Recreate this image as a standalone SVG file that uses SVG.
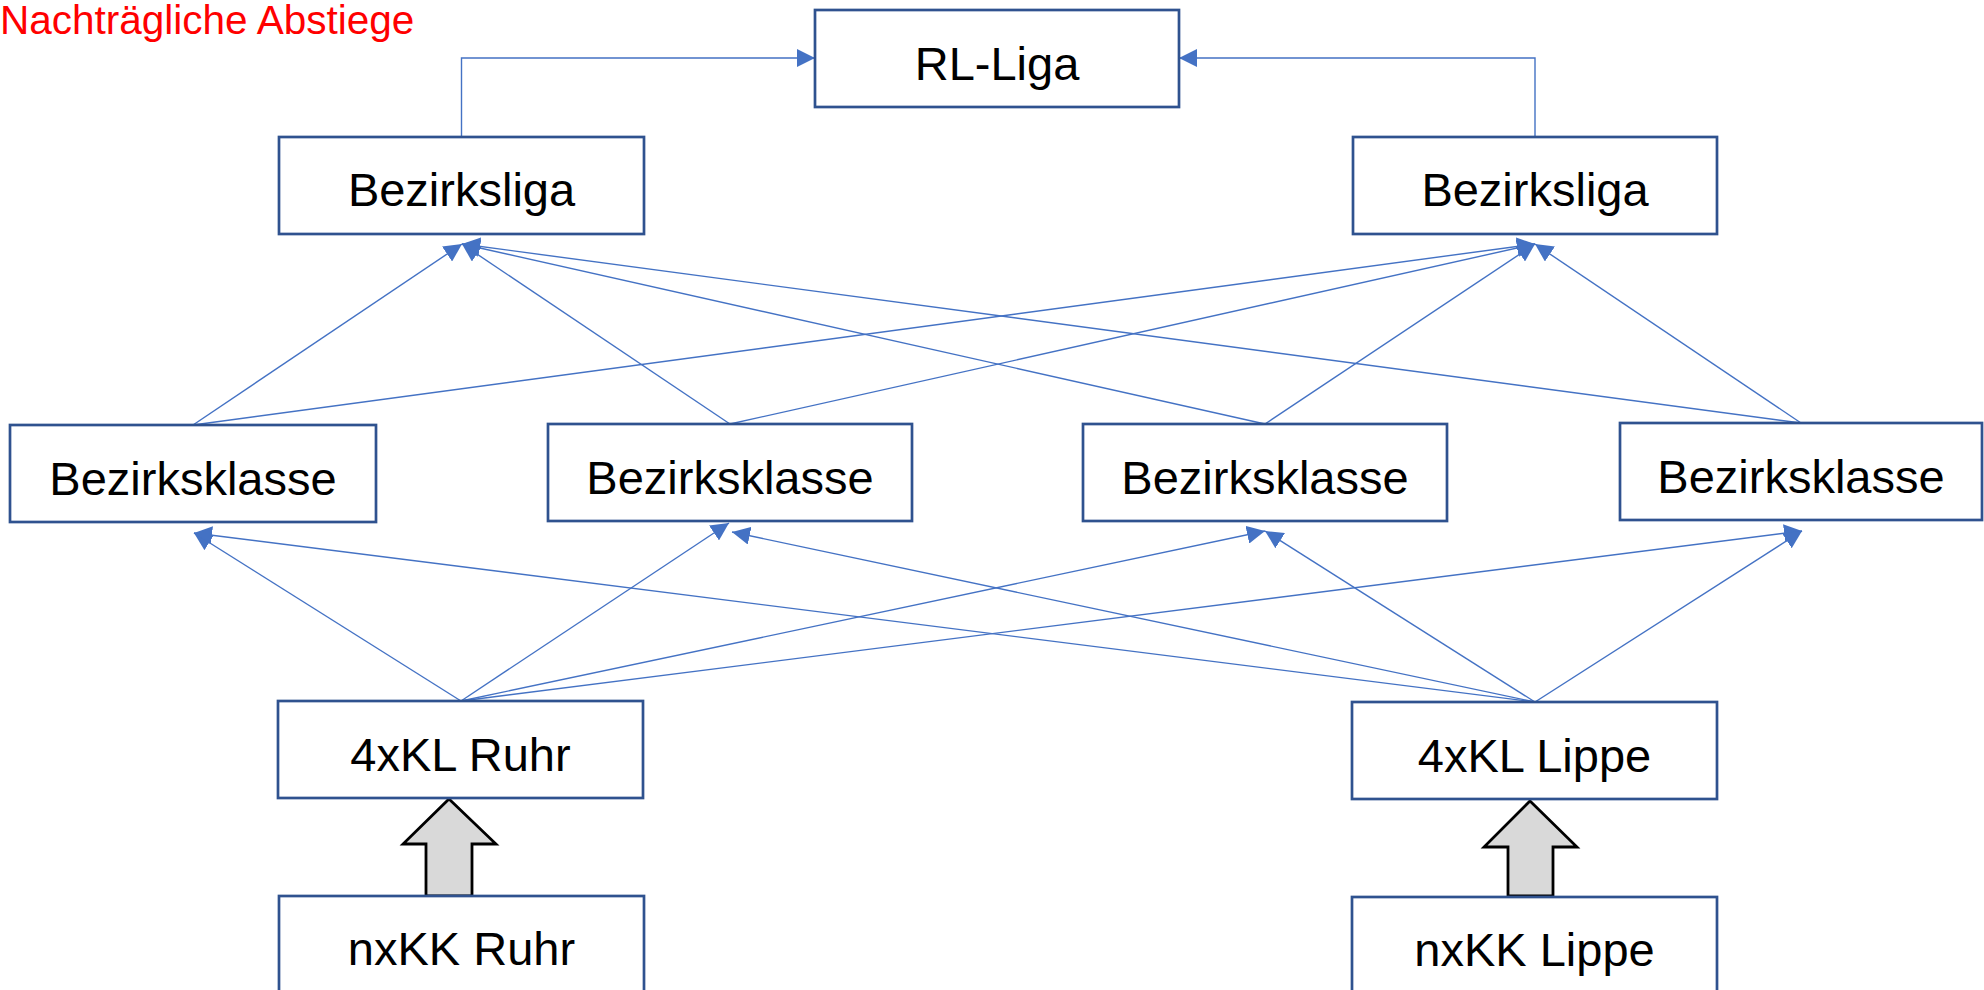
<svg xmlns="http://www.w3.org/2000/svg" width="1984" height="990" viewBox="0 0 1984 990">
<defs>
<style>
.box{fill:#fff;stroke:#2F528F;stroke-width:2.7}
.lbl{font-family:"Liberation Sans",Arial,sans-serif;font-size:47px;fill:#000;text-anchor:middle}
.con{fill:none;stroke:#4472C4;stroke-width:1.4}
.big{fill:#D9D9D9;stroke:#000;stroke-width:2.8;stroke-linejoin:miter}
</style>
<marker id="ah" markerUnits="userSpaceOnUse" markerWidth="18" markerHeight="18" viewBox="0 0 16 16" refX="16" refY="8" orient="auto">
<path d="M0,0 L16,8 L0,16 z" fill="#4472C4"/>
</marker>
</defs>
<rect width="1984" height="990" fill="#fff"/>
<text x="0" y="34" font-family="Liberation Sans, Arial, sans-serif" font-size="40.5" fill="#FF0000">Nachträgliche Abstiege</text>
<g id="connectors">
<path class="con" d="M461.5,137 V58 H815" marker-end="url(#ah)"/>
<path class="con" d="M1535,137 V58 H1179" marker-end="url(#ah)"/>
<line class="con" x1="193" y1="425" x2="462" y2="244" marker-end="url(#ah)"/>
<line class="con" x1="193" y1="425" x2="1535" y2="244" marker-end="url(#ah)"/>
<line class="con" x1="730" y1="424" x2="462" y2="244" marker-end="url(#ah)"/>
<line class="con" x1="730" y1="424" x2="1535" y2="244" marker-end="url(#ah)"/>
<line class="con" x1="1265" y1="424" x2="462" y2="244" marker-end="url(#ah)"/>
<line class="con" x1="1265" y1="424" x2="1535" y2="244" marker-end="url(#ah)"/>
<line class="con" x1="1801" y1="423" x2="462" y2="244" marker-end="url(#ah)"/>
<line class="con" x1="1801" y1="423" x2="1535" y2="244" marker-end="url(#ah)"/>
<line class="con" x1="461" y1="701" x2="194" y2="533" marker-end="url(#ah)"/>
<line class="con" x1="461" y1="701" x2="729" y2="523" marker-end="url(#ah)"/>
<line class="con" x1="461" y1="701" x2="1265" y2="531" marker-end="url(#ah)"/>
<line class="con" x1="461" y1="701" x2="1802" y2="531" marker-end="url(#ah)"/>
<line class="con" x1="1535" y1="702" x2="194" y2="533" marker-end="url(#ah)"/>
<line class="con" x1="1535" y1="702" x2="732" y2="532" marker-end="url(#ah)"/>
<line class="con" x1="1535" y1="702" x2="1265" y2="531" marker-end="url(#ah)"/>
<line class="con" x1="1535" y1="702" x2="1802" y2="531" marker-end="url(#ah)"/>
<polygon class="big" points="449,799 496,844 472,844 472,896 426,896 426,844 403,844"/>
<polygon class="big" points="1530,801 1577,847 1553,847 1553,896 1508,896 1508,847 1484,847"/>
</g>
<g id="rl-liga"><rect class="box" x="815" y="10" width="364" height="97"/><text class="lbl" x="997" y="80">RL-Liga</text></g>
<g id="bezirksliga-1"><rect class="box" x="279" y="137" width="365" height="97"/><text class="lbl" x="461.5" y="206">Bezirksliga</text></g>
<g id="bezirksliga-2"><rect class="box" x="1353" y="137" width="364" height="97"/><text class="lbl" x="1535" y="206">Bezirksliga</text></g>
<g id="bezirksklasse-1"><rect class="box" x="10" y="425" width="366" height="97"/><text class="lbl" x="193" y="495">Bezirksklasse</text></g>
<g id="bezirksklasse-2"><rect class="box" x="548" y="424" width="364" height="97"/><text class="lbl" x="730" y="494">Bezirksklasse</text></g>
<g id="bezirksklasse-3"><rect class="box" x="1083" y="424" width="364" height="97"/><text class="lbl" x="1265" y="494">Bezirksklasse</text></g>
<g id="bezirksklasse-4"><rect class="box" x="1620" y="423" width="362" height="97"/><text class="lbl" x="1801" y="493">Bezirksklasse</text></g>
<g id="kl-ruhr"><rect class="box" x="278" y="701" width="365" height="97"/><text class="lbl" x="460.5" y="771">4xKL Ruhr</text></g>
<g id="kl-lippe"><rect class="box" x="1352" y="702" width="365" height="97"/><text class="lbl" x="1534.5" y="772">4xKL Lippe</text></g>
<g id="kk-ruhr"><rect class="box" x="279" y="896" width="365" height="97"/><text class="lbl" x="461.5" y="965">nxKK Ruhr</text></g>
<g id="kk-lippe"><rect class="box" x="1352" y="897" width="365" height="97"/><text class="lbl" x="1534.5" y="966">nxKK Lippe</text></g>
</svg>
